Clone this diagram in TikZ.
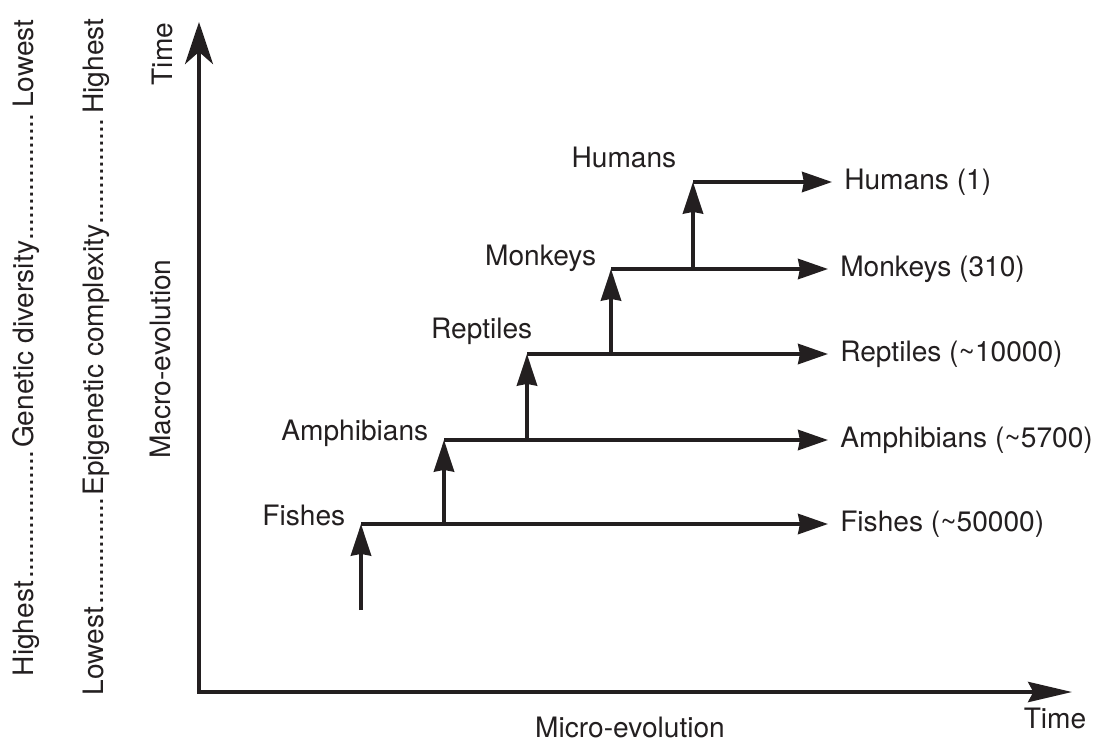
\documentclass[tikz,border=0pt]{standalone}
\usepackage{fontspec}
\setmainfont{TeX Gyre Heros}
\usetikzlibrary{arrows.meta}
\definecolor{ink}{HTML}{231F20}
\newcommand{\dotrule}{\leaders\hbox to 4pt{\hss.\hss}\hfill}

\begin{document}
\begin{tikzpicture}[x=0.02cm, y=-0.02cm, line width=2pt, ink,
  every node/.style={font=\fontsize{16}{19}\selectfont, inner sep=0pt, text=ink},
  grp/.style={anchor=base east},
  count/.style={anchor=west, inner sep=6pt},
  side/.style={rotate=90, anchor=base west},
  up/.style={-{Stealth[length=18pt, width=11.5pt, inset=1pt]}},
  fwd/.style={-{Stealth[length=17pt, width=11.5pt, inset=1pt]}}]
\useasboundingbox (0,0) rectangle (1095,751);

% axes
\coordinate (O) at (199,692);
\coordinate (ytop) at (199,22);
\coordinate (xend) at (1072,692);
\draw [{Stealth[length=24pt, width=16pt, inset=7pt]}-{Stealth[length=25pt, width=11.5pt, inset=3pt]}, line width=2.1pt, line join=miter] (ytop) -- (O) -- (xend);
\node [rotate=90, anchor=base] (tY) at (172,54) {Time};
\node (tX) at (1055,718) {Time};
\node (micro) at (630,727) {Micro-evolution};
\node [rotate=90, anchor=base] (macro) at (170,359) {Macro-evolution};

% scales on the left
\node [side] (gen) at (33,678) {\hbox to 13.14cm{Highest\dotrule Genetic diversity\dotrule Lowest}};
\node [side] (epi) at (103,697) {\hbox to 13.54cm{Lowest\dotrule Epigenetic complexity\dotrule Highest}};

% steps
\coordinate (root) at (361,610);
\coordinate (fishes) at (361,524);
\coordinate (amph) at (444,440);
\coordinate (rept) at (527,354);
\coordinate (monk) at (611,269);
\coordinate (hum) at (693,182);

\node [grp] (nF) at (347,525) {Fishes};
\node [grp] (nA) at (430,440) {Amphibians};
\node [grp] (nR) at (534,338) {Reptiles};
\node [grp] (nM) at (598,265) {Monkeys};
\node [grp] (nH) at (678,167) {Humans};

\node [count] (cF) at (828,524) {Fishes (\textasciitilde50000)};
\node [count] (cA) at (828,440) {Amphibians (\textasciitilde5700)};
\node [count] (cR) at (828,354) {Reptiles (\textasciitilde10000)};
\node [count] (cM) at (828,269) {Monkeys (310)};
\node [count] (cH) at (832,182) {Humans (1)};

\draw [up] (root) -- (fishes);
\draw [up] (fishes -| amph) -- (amph);
\draw [up] (amph -| rept) -- (rept);
\draw [up] (rept -| monk) -- (monk);
\draw [up] (monk -| hum) -- (hum);

\draw [fwd] (fishes) -- (cF.west);
\draw [fwd] (amph) -- (cA.west);
\draw [fwd] (rept) -- (cR.west);
\draw [fwd] (monk) -- (cM.west);
\draw [fwd] (hum) -- (cH.west);
\end{tikzpicture}
\end{document}
